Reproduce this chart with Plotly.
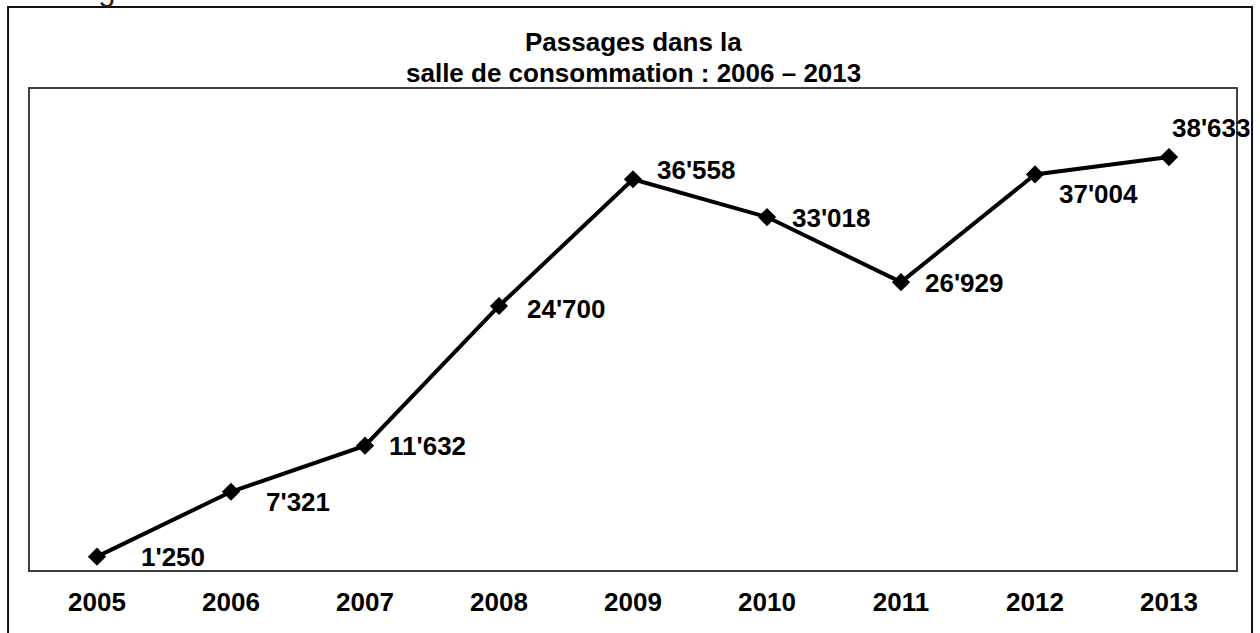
import plotly.graph_objects as go

years = [2005, 2006, 2007, 2008, 2009, 2010, 2011, 2012, 2013]
passages = [1250, 7321, 11632, 24700, 36558, 33018, 26929, 37004, 38633]
title_lines = ["Passages dans la", "salle de consommation : 2006 – 2013"]
top_caption = "Passages dans la salle de consommation : 2006 – 2013"

# label offsets (pixels) for each data label
label_dx = [42, 33, 22, 26, 22, 23, 22, 22, 1]
label_dy = [0, -10, 0, -3, 9, -1, -1, -20, 29]

FONT = "Liberation Sans, Arial, sans-serif"

fig = go.Figure()
fig.add_trace(go.Scatter(
    x=years, y=passages, mode="lines+markers",
    line=dict(color="black", width=4),
    marker=dict(symbol="diamond", size=14, color="black"),
    hoverinfo="skip", showlegend=False,
))

annotations = []
for x, v, dx, dy in zip(years, passages, label_dx, label_dy):
    annotations.append(dict(
        x=x, y=v, xref="x", yref="y", text="<b>" + f"{v:,}".replace(",", "'") + "</b>",
        showarrow=False, xanchor="left", yanchor="middle", xshift=dx, yshift=dy,
        font=dict(family=FONT, size=26, color="black"),
    ))

annotations.append(dict(x=0.5, y=1, xref="paper", yref="paper", text="<b>" + title_lines[0] + "</b>",
                        showarrow=False, xanchor="center", yanchor="middle", yshift=47,
                        font=dict(family=FONT, size=26, color="black")))
annotations.append(dict(x=0.5, y=1, xref="paper", yref="paper", text="<b>" + title_lines[1] + "</b>",
                        showarrow=False, xanchor="center", yanchor="middle", yshift=16,
                        font=dict(family=FONT, size=26, color="black")))
annotations.append(dict(x=-0.0166, y=1, xref="paper", yref="paper", text=top_caption,
                        showarrow=False, xanchor="left", yanchor="middle", yshift=99.5,
                        font=dict(family=FONT, size=31, color="#222")))

fig.update_layout(
    width=1260, height=633,
    margin=dict(l=30, r=24, t=89, b=63, autoexpand=False),
    paper_bgcolor="white", plot_bgcolor="white",
    annotations=annotations,
    shapes=[dict(type="rect", xref="paper", yref="paper",
                 x0=-0.0182, x1=1.0133, y0=-0.16, y1=1.1705,
                 line=dict(color="#111", width=2), layer="below")],
    xaxis=dict(range=[2004.5, 2013.5], tickvals=years,
               ticktext=["<b>" + str(y) + "</b>" for y in years],
               showgrid=False, zeroline=False, showline=True, mirror=True,
               linecolor="#404040", linewidth=1.5, ticks="outside", ticklen=8,
               tickcolor="rgba(0,0,0,0)",
               tickfont=dict(family=FONT, size=26, color="black"), fixedrange=True),
    yaxis=dict(range=[0, 45000], showgrid=False, zeroline=False, showline=True, mirror=True,
               linecolor="#404040", linewidth=1.5, showticklabels=False, ticks="",
               fixedrange=True),
    font=dict(family=FONT),
)

fig.write_html("out.html", config={"displayModeBar": False},
               post_script="document.body.style.margin='0';document.body.style.overflow='hidden';")
